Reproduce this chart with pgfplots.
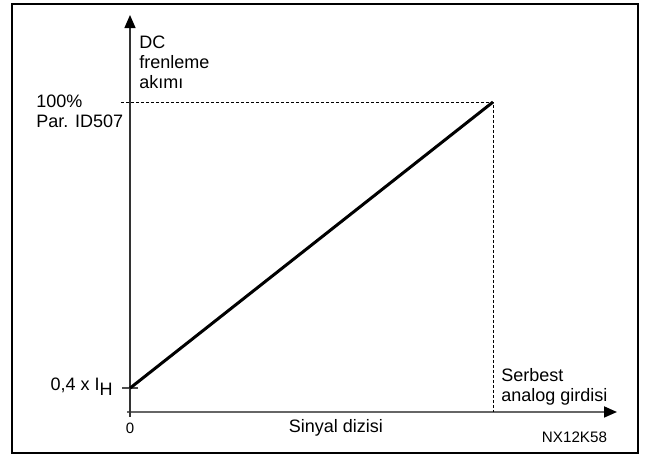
\documentclass[border=0pt]{standalone}
\usepackage{fontspec}
\setmainfont{Liberation Sans}
\usepackage{pgfplots}
\pgfplotsset{compat=1.18}
\usetikzlibrary{arrows.meta}
\begin{document}
\begin{tikzpicture}
\fontsize{9}{10}\selectfont
\begin{axis}[
  at={(65pt,21.5pt)}, anchor=south west,
  scale only axis, width=243.5pt, height=198.5pt,
  axis lines=left,
  xmin=0, xmax=1.3416, ymin=0.35, ymax=1.1825,
  clip=false,
  x axis line style={black!60, line width=0.9pt, shorten <=-1.5pt, -{Triangle[length=6.5pt,width=5.5pt,color=black]}},
  y axis line style={black!80, line width=0.6pt, shorten <=-2.5pt, -{Triangle[length=6.5pt,width=5.5pt,color=black]}},
  xtick=\empty,
  ytick={0.4}, yticklabels={},
  tick align=center,
  major tick length=7.5pt,
  tick style={black!70, line width=0.7pt},
]
\addplot[black, line width=1.5pt] coordinates {(0,0.4) (1,1)};
\addplot[black, line width=0.45pt, dash pattern=on 1.5pt off 1pt] coordinates {(-0.025,1) (1,1) (1,0.35)};
\end{axis}
\node[anchor=north west, inner sep=0pt, align=left] at (69.5pt,209.5pt) {DC\\frenleme\\akımı};
\node[anchor=north west, inner sep=0pt, align=left] at (18pt,180pt) {100\%\\Par. ID507};
\node[anchor=base east, inner sep=0pt] at (56.5pt,32pt) {0,4 x I\raisebox{-0.45ex}{H}};
\node[inner sep=0pt, font=\fontsize{7.5}{9}\selectfont] at (65pt,13.5pt) {0};
\node[inner sep=0pt] at (168pt,13.5pt) {Sinyal dizisi};
\node[anchor=north west, inner sep=0pt, align=left] at (250.5pt,43.5pt) {Serbest\\analog girdisi};
\node[inner sep=0pt, font=\fontsize{7.6}{9}\selectfont] at (287.25pt,9pt) {NX12K58};
\draw[line width=1pt] (6pt,1pt) rectangle (319pt,225.5pt);
\pgfresetboundingbox
\useasboundingbox (0,0) rectangle (325pt,227.5pt);
\end{tikzpicture}
\end{document}
